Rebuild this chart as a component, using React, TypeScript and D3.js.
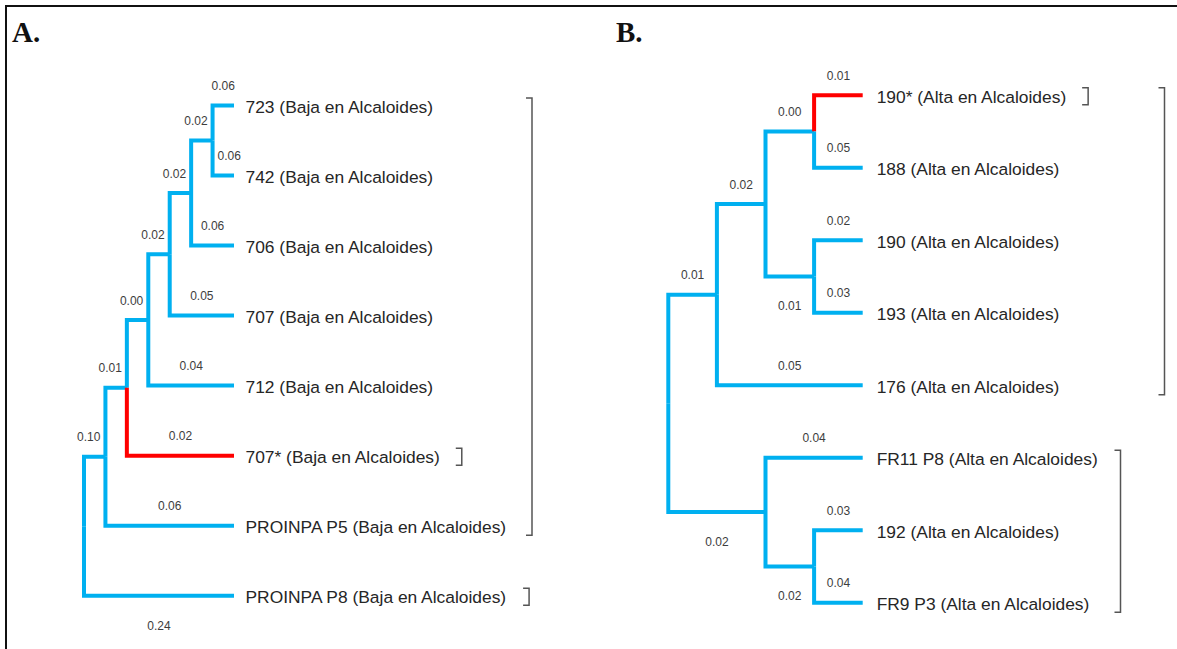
import React from 'react';
import * as d3 from 'd3';

const width = 1177;
const height = 649;

// ---- panel A: tree as id / parent rows, child order = row order
const idsA = ["root", "n6", "n5", "n4", "n3", "n2", "n1", "t723", "t742", "t706", "t707", "t712", "t707s", "tP5", "tP8"];
const parentsA = ["", "root", "n6", "n5", "n4", "n3", "n2", "n1", "n1", "n2", "n3", "n4", "n5", "n6", "root"];
const lengthsA = ["", "0.10", "0.01", "0.00", "0.02", "0.02", "0.02", "0.06", "0.06", "0.06", "0.05", "0.04", "0.02", "0.06", "0.24"];
const namesA = ["", "", "", "", "", "", "",
  "723 (Baja en Alcaloides)", "742 (Baja en Alcaloides)", "706 (Baja en Alcaloides)", "707 (Baja en Alcaloides)",
  "712 (Baja en Alcaloides)", "707* (Baja en Alcaloides)", "PROINPA P5 (Baja en Alcaloides)", "PROINPA P8 (Baja en Alcaloides)"];
const highlightA = ["t707s"];
const bracketsA = [["t723", "tP5"], ["t707s", "t707s"], ["tP8", "tP8"]];

// ---- panel B
const idsB = ["root", "p2", "p1", "q1", "q2", "f1", "t190s", "t188", "t190", "t193", "t176", "tFR11", "f2", "t192", "tFR9"];
const parentsB = ["", "root", "p2", "p1", "p1", "root", "q1", "q1", "q2", "q2", "p2", "f1", "f1", "f2", "f2"];
const lengthsB = ["", "0.01", "0.02", "0.00", "0.01", "0.02", "0.01", "0.05", "0.02", "0.03", "0.05", "0.04", "0.02", "0.03", "0.04"];
const namesB = ["", "", "", "", "", "",
  "190* (Alta en Alcaloides)", "188 (Alta en Alcaloides)", "190 (Alta en Alcaloides)", "193 (Alta en Alcaloides)",
  "176 (Alta en Alcaloides)", "FR11 P8 (Alta en Alcaloides)", "", "192 (Alta en Alcaloides)", "FR9 P3 (Alta en Alcaloides)"];
const highlightB = ["t190s"];
const bracketsB = [["t190s", "t190s"], ["t190s", "t176"], ["tFR11", "tFR9"]];

type Layout = {
  letter: string,
  letterX: number,
  rootX: number,
  tipX: number,
  topY: number,
  bottomY: number,
  nameGap: number,
  bracketCols: (number | null)[],
}

const layoutA: Layout = {letter: "A.", letterX: 12, rootX: 84, tipX: 234, topY: 105.5, bottomY: 595.7, nameGap: 11.5, bracketCols: [532, null, null]};
const layoutB: Layout = {letter: "B.", letterX: 616, rootX: 668.3, tipX: 862.7, topY: 95.3, bottomY: 602.7, nameGap: 14, bracketCols: [null, 1164.5, 1120.5]};

const blue = "#00B0F0";
const red = "#FF0000";
const sans = '"Liberation Sans", Arial, sans-serif';
const labelSize = 12;
const nameSize = 17.4;
const labelFont = `${labelSize}px ${sans}`;
const nameFont = `${nameSize}px ${sans}`;

const measureCtx = document.createElement("canvas").getContext("2d");
const textWidth = (text: string, font: string) => {
  if (!measureCtx) return text.length * 7;
  measureCtx.font = font;
  return measureCtx.measureText(text).width;
}

type Row = {id: string, parent: string, length: string, name: string};

const Tree = ({ids, parents, lengths, names, highlight, brackets, layout}:
  {ids: string[], parents: string[], lengths: string[], names: string[], highlight: string[], brackets: string[][], layout: Layout}) => {
  const rows: Row[] = ids.map((id, i) => ({id, parent: parents[i], length: lengths[i], name: names[i]}));
  const root = d3.stratify<Row>().id(d => d.id).parentId(d => d.parent || null)(rows);

  const xScale = d3.scaleLinear().domain([root.height, 0]).range([layout.rootX, layout.tipX]);
  const yLeaf = d3.scalePoint<string>().domain(root.leaves().map(d => d.id as string)).range([layout.topY, layout.bottomY]);

  const pos = new Map<string, {x: number, y: number}>();
  root.eachAfter(node => {
    const y = node.children
      ? (pos.get(node.children[0].id as string)!.y + pos.get(node.children[node.children.length - 1].id as string)!.y) / 2
      : yLeaf(node.id as string)!;
    pos.set(node.id as string, {x: xScale(node.height), y});
  });
  const P = (n: d3.HierarchyNode<Row>) => pos.get(n.id as string)!;

  const branches = root.descendants().filter(n => n.parent);

  return (
    <g>
      <text x={layout.letterX} y={42} fontFamily='"Liberation Serif", "Times New Roman", serif' fontWeight="bold" fontSize={29} fill="#111">{layout.letter}</text>
      {branches.map(n => {
        const p = P(n.parent!);
        const c = P(n);
        return <path key={"b" + n.id} d={`M${p.x},${p.y}V${c.y}H${c.x}`} fill="none"
          stroke={highlight.includes(n.id as string) ? red : blue} strokeWidth={4} strokeLinejoin="miter"/>
      })}
      {branches.map(n => {
        const label = n.data.length;
        const p = P(n.parent!);
        const c = P(n);
        const sibs = n.parent!.children!;
        const isLast = sibs[sibs.length - 1] === n;
        const below = isLast && (!!n.children || !n.parent!.parent);
        const cy = below ? c.y + 29.5 : c.y - 19.7;
        const w = textWidth(label, labelFont);
        const half = 5.5;
        let cx = (p.x + c.x) / 2;
        // keep the label clear of the parent's vertical line
        const pTop = P(sibs[0]).y, pBot = P(sibs[sibs.length - 1]).y;
        if (cy + half > pTop && cy - half < pBot) cx = Math.max(cx, p.x + 5 + w / 2);
        // ...and of its own vertical line
        if (n.children) {
          const oTop = P(n.children[0]).y, oBot = P(n.children[n.children.length - 1]).y;
          if (cy + half > oTop && cy - half < oBot) cx = Math.min(cx, c.x - 5 - w / 2);
        }
        return <text key={"l" + n.id} x={cx} y={cy + 4.3} textAnchor="middle" fontFamily={sans} fontSize={labelSize} fill="#3d3d3d">{label}</text>
      })}
      {root.leaves().map(n => {
        const c = P(n);
        return <text key={"n" + n.id} x={c.x + layout.nameGap} y={c.y + 7.6} fontFamily={sans} fontSize={nameSize} fill="#262626">{n.data.name}</text>
      })}
      {brackets.map(([a, b], i) => {
        const y0 = pos.get(a)!.y - 7.5;
        const y1 = pos.get(b)!.y + 9.5;
        const col = layout.bracketCols[i];
        const leafA = root.leaves().find(n => n.id === a)!;
        const x = col ?? (layout.tipX + layout.nameGap + textWidth(leafA.data.name, nameFont) + 15 + 6);
        return <path key={"k" + i} d={`M${x - 6},${y0}H${x}V${y1}H${x - 6}`} fill="none" stroke="#555" strokeWidth={1.5}/>
      })}
    </g>
  )
}

const App = () => {
  return (
    <svg width={width} height={height} style={{position: "absolute", left: 0, top: 0, background: "white", display: "block"}}>
      <path d={`M6,${height + 5}V6H${width + 5}`} fill="none" stroke="#111" strokeWidth={2}/>
      <Tree ids={idsA} parents={parentsA} lengths={lengthsA} names={namesA} highlight={highlightA} brackets={bracketsA} layout={layoutA}/>
      <Tree ids={idsB} parents={parentsB} lengths={lengthsB} names={namesB} highlight={highlightB} brackets={bracketsB} layout={layoutB}/>
    </svg>
  )
}

export default App;
